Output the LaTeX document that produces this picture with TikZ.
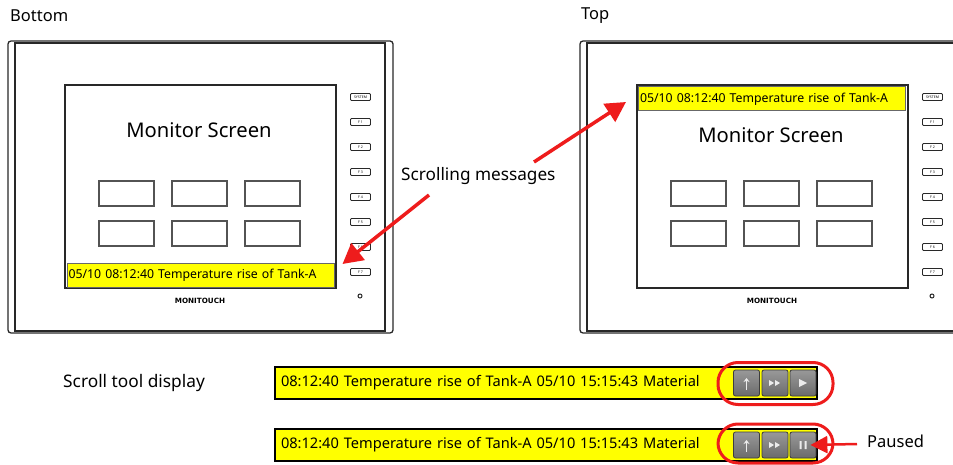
\documentclass[tikz,border=0pt]{standalone}
\usepackage{fontspec}
\setmainfont{Noto Sans}
\newfontfamily\brandfont{DejaVu Sans}
\usetikzlibrary{arrows.meta,positioning,calc}
\definecolor{alarmred}{RGB}{238,28,28}
\definecolor{msgyellow}{RGB}{255,255,0}
\definecolor{bezel}{RGB}{40,40,40}

\begin{document}
\begin{tikzpicture}[x=1pt,y=-1pt,
  frame/.style={draw=bezel, line width=1.3pt},
  swbox/.style={draw=bezel!80, line width=1.2pt, minimum width=55pt, minimum height=25pt, inner sep=0pt},
  fkey/.style={draw=bezel, line width=0.8pt, rounded corners=1pt, minimum width=20pt,
    minimum height=7pt, inner sep=0pt, font=\fontsize{3.5}{4}\selectfont},
  scrmsg/.style={draw=bezel!70, fill=msgyellow, line width=1pt, minimum width=267pt,
    minimum height=24pt, inner xsep=1.5pt, text width=264pt, align=left, font=\fontsize{12.3}{14}\selectfont},
  toolbar/.style={draw=black, fill=msgyellow, line width=2pt, minimum width=542pt,
    minimum height=32pt, inner xsep=6pt, text width=530pt, align=left, font=\fontsize{14.6}{17}\selectfont},
  tbtn/.style={draw=bezel!90, line width=0.8pt, rounded corners=2pt, top color=black!40,
    bottom color=black!58, minimum width=26pt, minimum height=26pt, inner sep=0pt},
  icon/.style={draw=white!85!gray, fill=white!85!gray, line width=1.2pt},
  ring/.style={draw=alarmred, line width=3pt, rounded corners=20pt, minimum width=115pt, minimum height=42pt},
  bigarr/.style={-{Triangle[length=20pt,width=21pt]}, line width=3.5pt, alarmred},
  smallarr/.style={-{Triangle[length=17pt,width=17pt]}, line width=2.5pt, alarmred},
  lbl/.style={anchor=west, inner sep=0pt, font=\fontsize{16.5}{18}\selectfont}
]
\clip (0,0) rectangle (953,465);

\node[lbl] (bot) at (10,16) {Bottom};
\node[lbl] (top) at (581,16) {Top};

\foreach \p/\ox/\ty in {L/0/130,R/572/135} {
  \begin{scope}[xshift=\ox pt]
    \draw[frame, rounded corners=3pt] (8,41) rectangle (393,333);
    \draw[frame] (15,43) rectangle (385,331);
    \draw[frame, line width=1.5pt, fill=white] (65,85) rectangle (336,288);
    \node[font=\fontsize{20.2}{22}\selectfont] (title\p) at (199,\ty) {Monitor Screen};
    \foreach \c in {0,1,2} {
      \node[swbox] (sw\p a\c) at (126.5+73*\c,193.5) {};
      \node[swbox] (sw\p b\c) at (126.5+73*\c,233.5) {};
    }
    \foreach \k/\t in {0/SYSTEM,1/F 1,2/F 2,3/F 3,4/F 4,5/F 5,6/F 6,7/F 7} {
      \node[fkey] (key\p\k) at (360.5,97+25*\k) {\t};
    }
    \draw[bezel, line width=1pt] (360,296) circle (2pt);
    \node[font=\brandfont\fontsize{7.2}{8}\selectfont\bfseries] (brand\p) at (200,301) {MONITOUCH};
  \end{scope}
}

\node[scrmsg] (msgL) at (200.5,275) {05/10 08:12:40 Temperature rise of Tank-A};
\node[scrmsg] (msgR) at (772,99) {05/10 08:12:40 Temperature rise of Tank-A};

\node[lbl, font=\fontsize{17.2}{19}\selectfont] (scrl) at (401,176) {Scrolling messages};
\coordinate (sA) at (429,195);
\coordinate (sB) at (534,162);
\draw[bigarr] (sA) -- ([shift={(8pt,11pt)}]msgL.east);
\draw[bigarr] (sB) -- ([shift={(-12pt,-3pt)}]msgR.west);

\node[lbl, font=\fontsize{17.3}{19}\selectfont] (tool) at (63,383) {Scroll tool display};
\node[toolbar] (barA) at (546,383) {08:12:40 Temperature rise of Tank-A 05/10 15:15:43 Material};
\node[toolbar] (barB) at (546,445) {08:12:40 Temperature rise of Tank-A 05/10 15:15:43 Material};

\foreach \b/\y in {A/383,B/445} {
  \node[tbtn] (bt\b1) at (746.5,\y) {};
  \node[tbtn] (bt\b2) at (775,\y) {};
  \node[tbtn] (bt\b3) at (803,\y) {};
  \draw[icon, fill=none, -{Stealth[length=4pt,width=6pt]}] ([yshift=-7pt]bt\b1.center) -- ([yshift=5pt]bt\b1.center);
  \fill[white!85!gray] ([xshift=-6pt,yshift=3pt]bt\b2.center) -- ++(5pt,-3pt) -- ++(-5pt,-3pt) -- cycle
    ([xshift=0pt,yshift=3pt]bt\b2.center) -- ++(5pt,-3pt) -- ++(-5pt,-3pt) -- cycle;
}
\fill[white!85!gray] ([xshift=-4pt,yshift=4pt]btA3.center) -- ++(8pt,-4pt) -- ++(-8pt,-4pt) -- cycle;
\fill[white!85!gray] ([xshift=-3.5pt,yshift=4pt]btB3.center) rectangle ++(2pt,-8pt)
  ([xshift=1.5pt,yshift=4pt]btB3.center) rectangle ++(2pt,-8pt);

\node[ring] (ringA) at (775.5,383.5) {};
\node[ring, minimum height=39pt] (ringB) at (775.5,443.5) {};

\node[lbl] (paused) at (867,441) {Paused};
\coordinate (pz) at (857,444);
\draw[smallarr] (pz) -- ([xshift=-6pt]btB3.east);
\end{tikzpicture}
\end{document}
